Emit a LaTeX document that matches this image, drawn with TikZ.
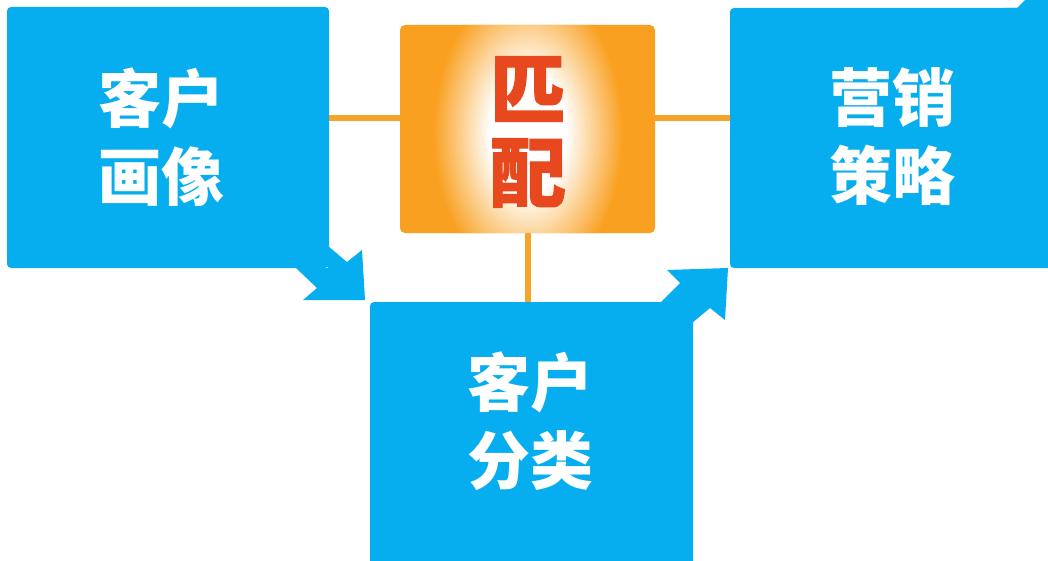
\documentclass[tikz,border=0pt]{standalone}
\usepackage{fontspec}
\newfontfamily\cjk{Noto Sans CJK SC}
\newfontfamily\cjkheavy[BoldFeatures={FakeBold=1.5}]{Noto Sans CJK SC}
\definecolor{bluebox}{RGB}{6,173,239}
\definecolor{orangebox}{RGB}{249,160,32}
\definecolor{linkorange}{RGB}{246,163,40}
\definecolor{redtext}{RGB}{232,72,30}
\pgfdeclareradialshading{glow}{\pgfpoint{0bp}{0bp}}{color(0bp)=(white); color(10bp)=(white); color(25bp)=(orangebox); color(50bp)=(orangebox)}
\tikzset{
  bluepanel/.style={fill=bluebox, draw=none, rounded corners=4pt, inner sep=0pt},
  orangepanel/.style={fill=orangebox, draw=none, rounded corners=5pt, inner sep=0pt},
  bluearrow/.style={fill=bluebox, draw=none},
  panellabel/.style={text=white, font=\cjk\bfseries\fontsize{63}{78}\selectfont, align=center, inner sep=0pt},
  matchlabel/.style={text=redtext, font=\cjkheavy\bfseries\fontsize{76}{83}\selectfont, align=center, inner sep=0pt},
  link/.style={draw=linkorange, line width=6pt}
}
\begin{document}
\begin{tikzpicture}[x=1pt,y=-1pt]
\useasboundingbox (0,0) rectangle (1048,561);
\clip (0,0) rectangle (1048,561);
\node[bluepanel, minimum width=322pt, minimum height=261pt] (profile) at (168,137.5) {};
\node[bluepanel, minimum width=340pt, minimum height=260pt] (strategy) at (900,138) {};
\node[bluepanel, minimum width=323pt, minimum height=280pt] (segment) at (531.5,442) {};
\node[orangepanel, minimum width=255pt, minimum height=208pt] (match) at (527.5,129) {};
\coordinate (mL) at (400,118);
\coordinate (mR) at (655,118);
\draw[link] (profile.east |- mL) -- (mL);
\draw[link] (mR) -- (strategy.west |- mR);
\draw[link] (match.south) -- (match.south |- segment.north);
% glow
\begin{scope}
  \clip[rounded corners=5pt] (match.south west) rectangle (match.north east);
  \shade[shading=glow] (528,133) ellipse [x radius=95, y radius=150];
\end{scope}
% arrows
\fill[bluearrow] (328,246) -- (347,262) -- (362,250) -- (365,300) -- (303,300) -- (317,288) -- (296,268) -- (328,268) -- cycle;
\fill[bluearrow] (660,303) -- (680,283) -- (667,270) -- (728,268) -- (725,320) -- (710,308) -- (692,323) -- (692,303) -- cycle;
\fill[bluearrow] (1005,8) -- (1017,8) -- (1030,-5) -- (1060,-5) -- (1060,30) -- (1005,30) -- cycle;
% labels
\node[panellabel] (t1) at (161,137) {客户\\画像};
\node[panellabel] (t2) at (892,137) {营销\\策略};
\node[panellabel] (t3) at (530,421) {客户\\分类};
\node[matchlabel] (t4) at (528,132) {匹\\配};
\end{tikzpicture}
\end{document}
